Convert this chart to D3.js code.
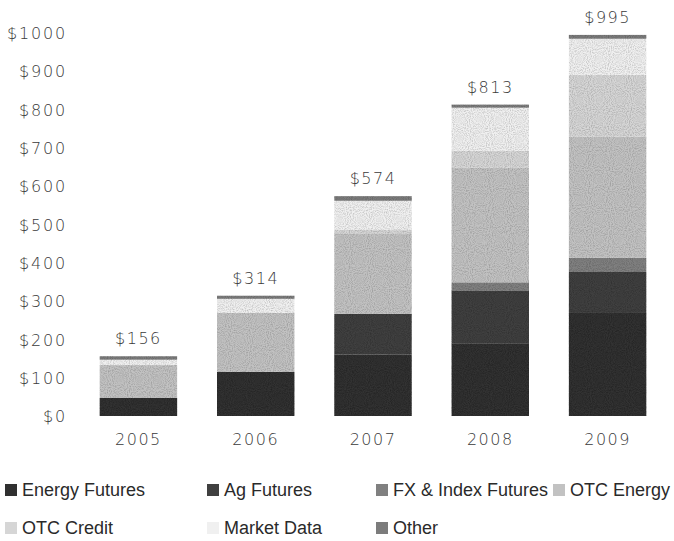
<!DOCTYPE html>
<html>
<head>
<meta charset="utf-8">
<script src="https://cdn.jsdelivr.net/npm/d3@7"></script>
<style>
  body { margin: 0; background: #fff; }
  svg { display: block; }
  .axis-text { font-family: "DejaVu Sans", sans-serif; font-weight: 300; fill: #3a3a3a; }
  .legend-text { font-family: "Liberation Sans", Arial, sans-serif; fill: #2a2a2a; }
</style>
</head>
<body>
<svg id="chart" width="674" height="541">
  <defs>
    <!-- a bit of grain, the source is a scanned halftone -->
    <filter id="grain" x="0" y="0" width="100%" height="100%">
      <feTurbulence type="fractalNoise" baseFrequency="0.95" numOctaves="1" seed="4" result="noise"/>
      <feColorMatrix in="noise" type="matrix"
        values="0 0 0 0 0  0 0 0 0 0  0 0 0 0 0  0 0 0 0.9 -0.35" result="dots"/>
      <feComposite in="dots" in2="SourceAlpha" operator="in" result="clipped"/>
      <feMerge>
        <feMergeNode in="SourceGraphic"/>
        <feMergeNode in="clipped"/>
      </feMerge>
    </filter>
  </defs>
</svg>
<script>
// revenue by segment, $ millions
const years = ["2005", "2006", "2007", "2008", "2009"];
const segments = ["Energy Futures", "Ag Futures", "FX & Index Futures", "OTC Energy", "OTC Credit", "Market Data", "Other"];
const energyFutures = [47, 115, 160, 190, 269];
const agFutures = [0, 0, 107, 138, 107];
const fxIndexFutures = [0, 0, 0, 21, 37];
const otcEnergy = [86, 154, 210, 300, 316];
const otcCredit = [0, 0, 10, 44, 162];
const marketData = [14, 37, 75, 112, 94];
const other = [9, 8, 12, 8, 10];
const totals = [156, 314, 574, 813, 995];
const yTicks = [0, 100, 200, 300, 400, 500, 600, 700, 800, 900, 1000];

const colors = ["#303030", "#404040", "#808080", "#c2c2c2", "#d6d6d6", "#f0f0f0", "#7c7c7c"];

const svg = d3.select("#chart");

// build rows for the stack
const seriesValues = [energyFutures, agFutures, fxIndexFutures, otcEnergy, otcCredit, marketData, other];
const rows = years.map((year, i) => {
  const row = { year };
  segments.forEach((s, k) => { row[s] = seriesValues[k][i]; });
  return row;
});
const stacked = d3.stack().keys(segments)(rows);

const x = d3.scaleBand().domain(years).range([61, 685]).paddingInner(0.34).paddingOuter(0.33);
const y = d3.scaleLinear().domain([0, 1000]).range([416, 33]);
const color = d3.scaleOrdinal().domain(segments).range(colors);

// y axis, labels only
const yAxis = svg.append("g")
  .attr("transform", "translate(67,0)")
  .call(d3.axisLeft(y).tickValues(yTicks).tickSize(0).tickPadding(0).tickFormat((d) => "$" + d));
yAxis.select(".domain").remove();
yAxis.selectAll("text")
  .attr("class", "axis-text")
  .attr("font-size", 16)
  .attr("letter-spacing", 1.8)
  .attr("dy", "0.35em");

// x axis labels
const xAxis = svg.append("g")
  .attr("transform", "translate(0,434)")
  .call(d3.axisBottom(x).tickSize(0).tickPadding(0));
xAxis.select(".domain").remove();
xAxis.selectAll("text")
  .attr("class", "axis-text")
  .attr("font-size", 16)
  .attr("letter-spacing", 1.5);

// bars
svg.append("g")
  .attr("filter", "url(#grain)")
  .selectAll("g")
  .data(stacked)
  .join("g")
  .attr("fill", (d) => color(d.key))
  .selectAll("rect")
  .data((d) => d)
  .join("rect")
  .attr("x", (d) => x(d.data.year))
  .attr("width", x.bandwidth())
  .attr("y", (d) => y(d[1]))
  .attr("height", (d) => Math.max(0, y(d[0]) - y(d[1])));

// totals above bars
svg.append("g")
  .selectAll("text")
  .data(years)
  .join("text")
  .attr("class", "axis-text")
  .attr("font-size", 16)
  .attr("letter-spacing", 1.5)
  .attr("text-anchor", "middle")
  .attr("x", (d) => x(d) + x.bandwidth() / 2)
  .attr("y", (d, i) => y(totals[i]) - 12)
  .text((d, i) => "$" + totals[i]);

// legend
const legendX = [5, 207, 376, 553];
const legend = svg.append("g")
  .selectAll("g")
  .data(segments)
  .join("g")
  .attr("transform", (d, i) => `translate(${legendX[i % 4]}, ${i < 4 ? 490 : 528})`);
legend.append("rect")
  .attr("y", -6)
  .attr("width", 12)
  .attr("height", 12)
  .attr("fill", (d) => color(d));
legend.append("text")
  .attr("class", "legend-text")
  .attr("x", 17)
  .attr("dy", "0.35em")
  .attr("font-size", 18)
  .text((d) => d);
</script>
</body>
</html>
